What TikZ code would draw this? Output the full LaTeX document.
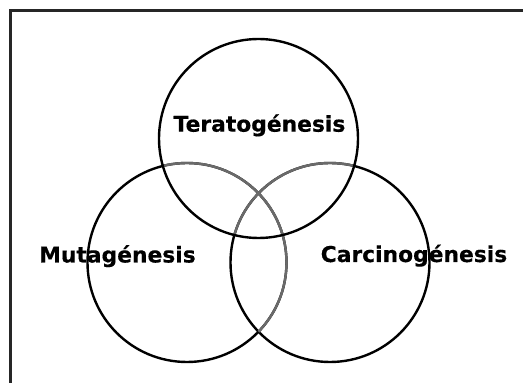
\documentclass[tikz,border=0pt]{standalone}
\usepackage{fontspec}
\setmainfont{DejaVu Sans}
\newfontfamily\lblfont{DejaVu Sans Bold}[FakeBold=0.4]
\begin{document}
\begin{tikzpicture}[x=1pt,y=1pt,
  ring/.style={line width=2.4pt, draw=black},
  greyring/.style={line width=2.4pt, draw=overlapgrey},
  lbl/.style={font=\lblfont\fontsize{21.8}{26}\selectfont, inner sep=0pt, anchor=base},
  frameline/.style={line width=3pt, draw=black!85, line join=miter}]
\definecolor{overlapgrey}{HTML}{6A6A6A}
\useasboundingbox (0,0) rectangle (523,383);
\fill[white] (0,0) rectangle (523,383);
% frame (top and left only)
\coordinate (fb) at (10.5,0);
\coordinate (fc) at (10.5,372.5);
\coordinate (fr) at (523,372.5);
\draw[frameline] (fb) -- (fc) -- (fr);
% circle centres
\coordinate (T) at (258.5,244.5);
\coordinate (L) at (187,120.5);
\coordinate (R) at (330,120.5);
\def\rr{99.5}
% black outlines
\draw[ring] (L) circle[radius=\rr];
\draw[ring] (R) circle[radius=\rr];
% grey overlap arcs
\begin{scope}
  \clip (T) circle[radius=\rr];
  \draw[greyring] (L) circle[radius=\rr];
  \draw[greyring] (R) circle[radius=\rr];
\end{scope}
\begin{scope}
  \clip (R) circle[radius=\rr];
  \draw[greyring] (L) circle[radius=\rr];
\end{scope}
\draw[ring] (T) circle[radius=\rr];
% labels
\node[lbl] (tera) at (259.5,251.3) {Teratogénesis};
\node[lbl] (muta) at (117.5,120.5) {Mutagénesis};
\node[lbl] (carc) at (414,121) {Carcinogénesis};
\end{tikzpicture}
\end{document}
